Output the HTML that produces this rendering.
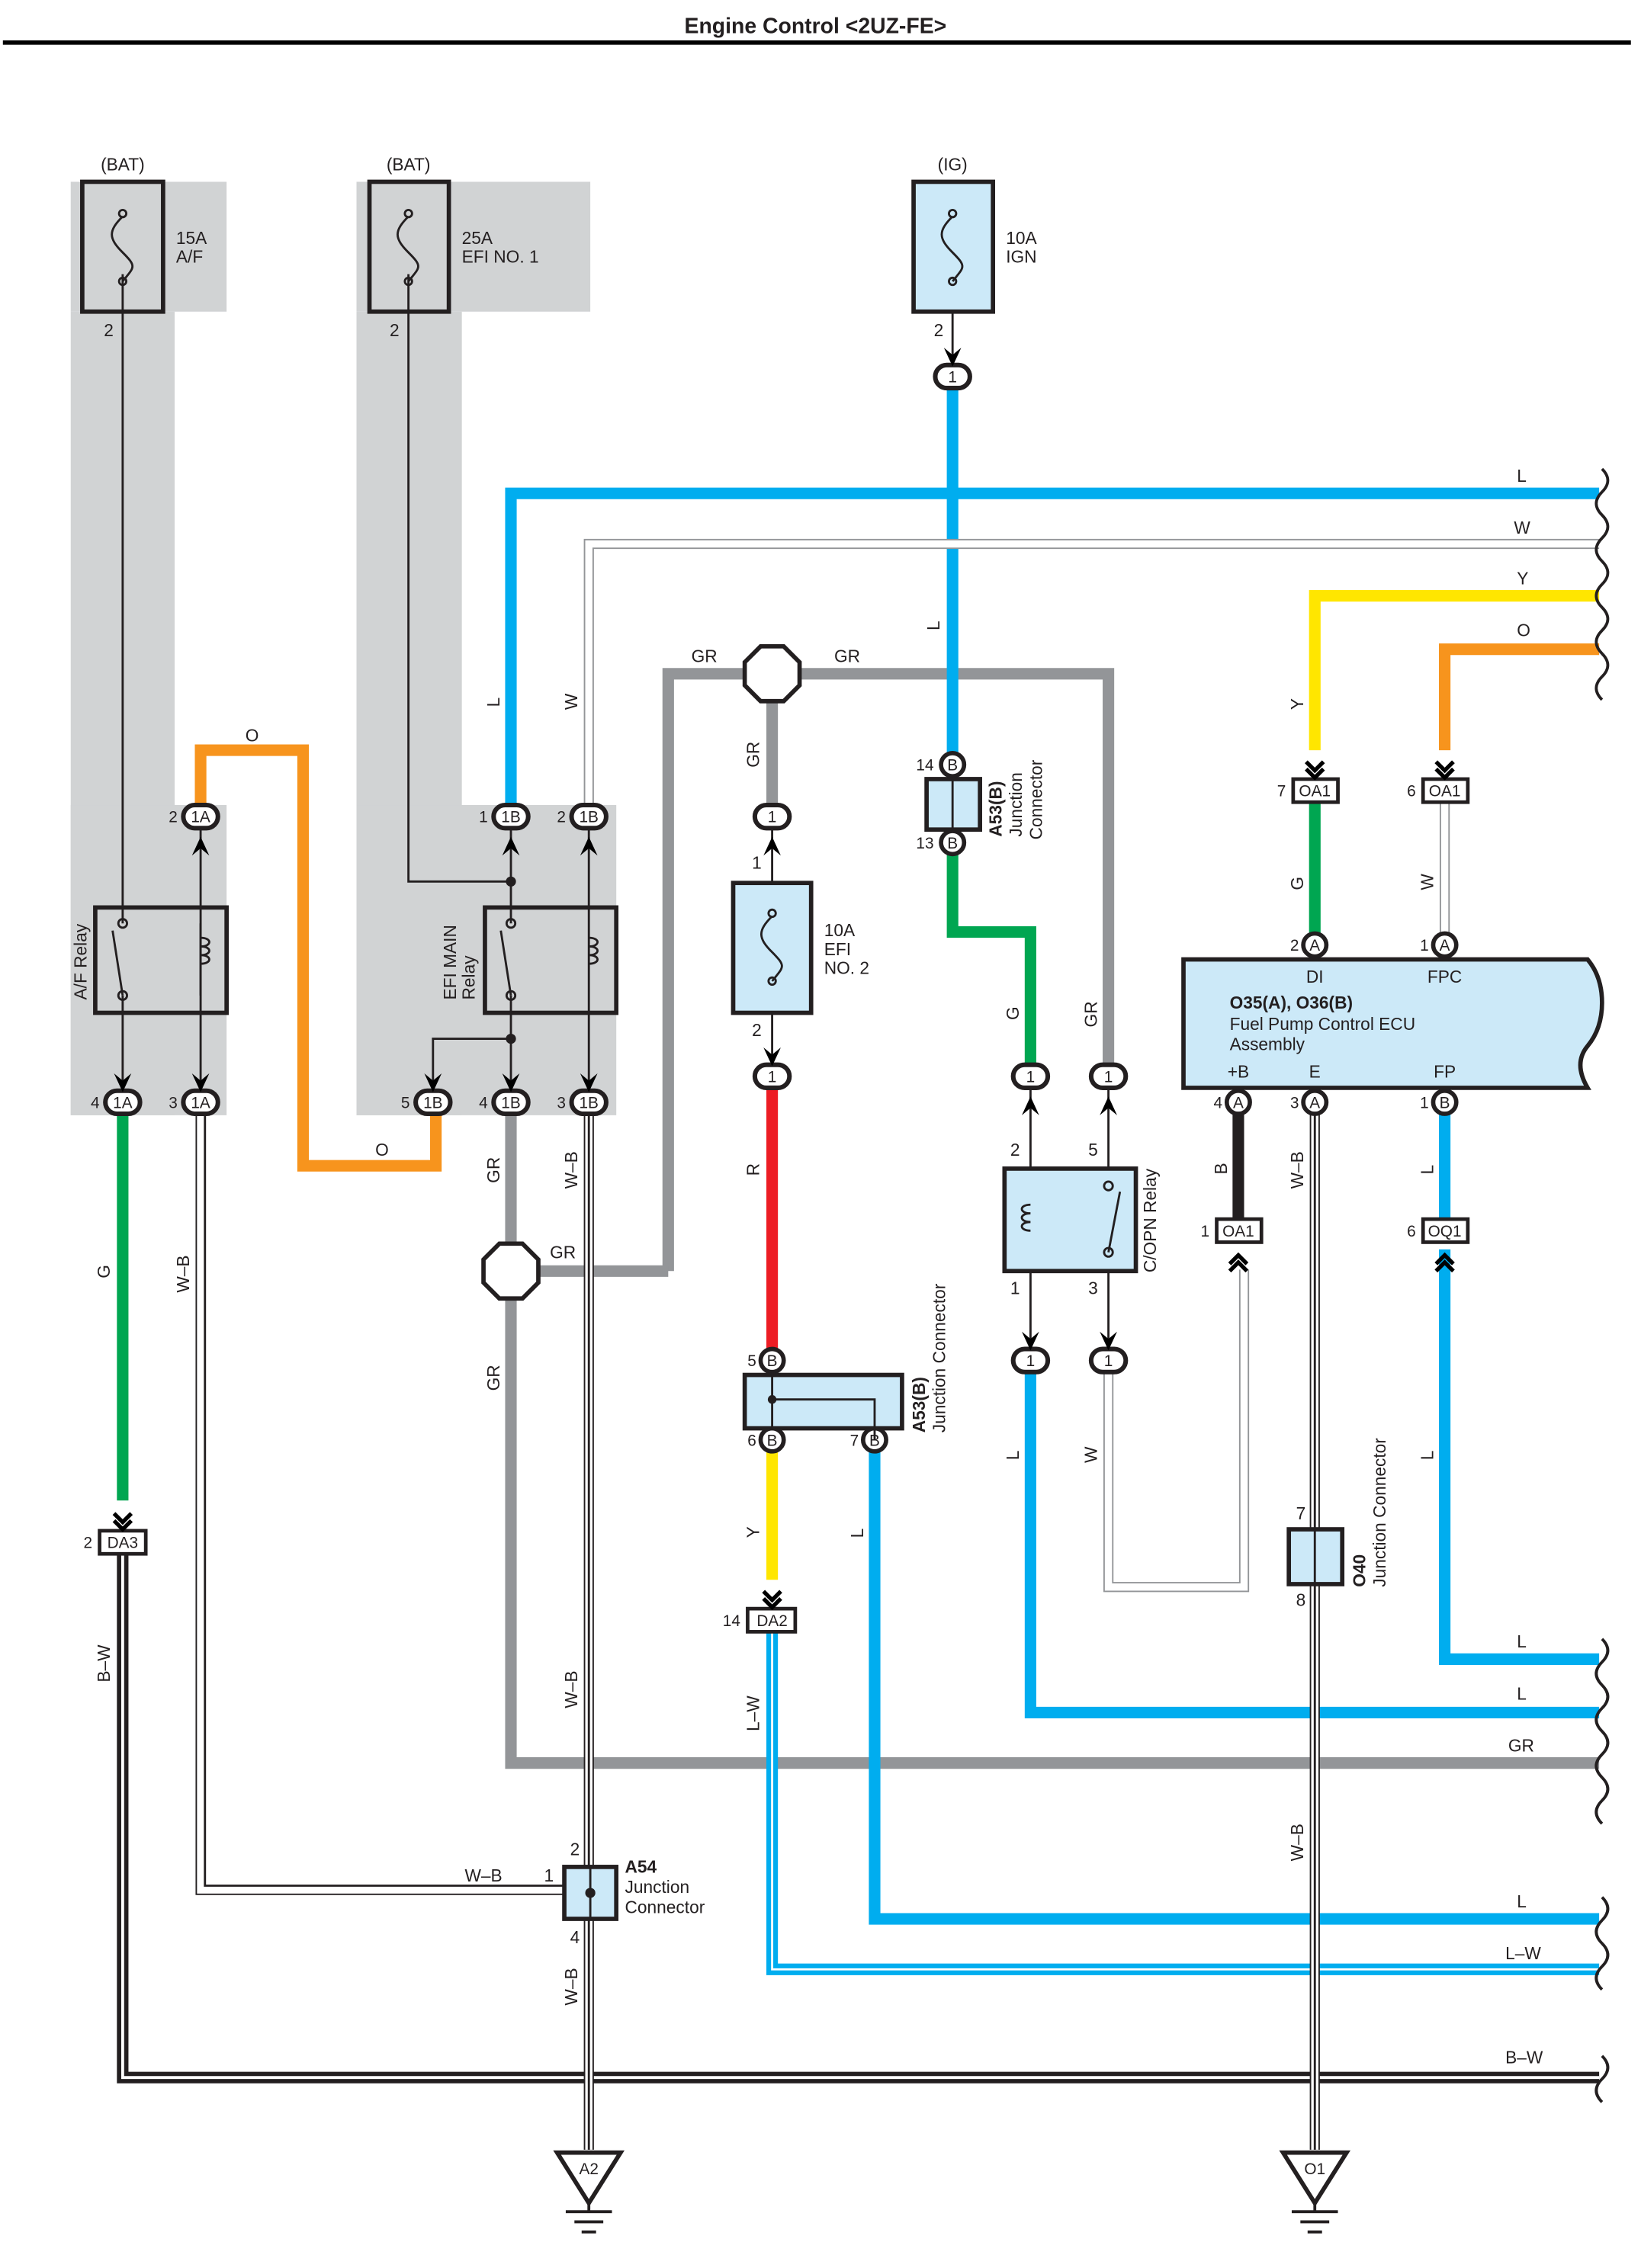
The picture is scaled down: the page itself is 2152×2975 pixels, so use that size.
<!DOCTYPE html>
<html><head><meta charset="utf-8">
<style>html,body{margin:0;padding:0;background:#fff}svg{display:block}
text{font-family:"Liberation Sans",sans-serif;fill:#231f20}</style></head>
<body>
<svg width="2152" height="2975" viewBox="0 0 1137 1572" preserveAspectRatio="none" xmlns="http://www.w3.org/2000/svg">
<defs>
<g id="chev"><path d="M-6,-9 L0,-3 L6,-9 M-6,-4 L0,2 L6,-4" fill="none" stroke="#000" stroke-width="2.8"/></g>
<g id="arrU"><path d="M-6,10 L0,-3 L6,10 L0,5 Z" fill="#000"/></g>
<g id="arrD"><path d="M-6,-10 L0,3 L6,-10 L0,-5 Z" fill="#000"/></g>
</defs>
<rect width="1137" height="1572" fill="#fff"/>
<text x="565" y="23" font-size="15" font-weight="bold" text-anchor="middle">Engine Control &lt;2UZ-FE&gt;</text>
<rect x="2" y="28" width="1128" height="3" fill="#000"/>

<g fill="#d1d3d4">
<rect x="49" y="126" width="108" height="90"/><rect x="49" y="216" width="72" height="557"/><rect x="49" y="558" width="108" height="215"/>
<rect x="247" y="126" width="162" height="90"/><rect x="247" y="216" width="73" height="557"/><rect x="247" y="558" width="180" height="215"/>
</g>

<g fill="none" stroke-linejoin="miter" stroke-linecap="butt">
<g stroke="#939598" stroke-width="8">
<path d="M463,881 V467 H768 V740"/>
<path d="M535,467 V560"/>
<path d="M354,770 V1222 H1108"/>
<path d="M354,881 H463"/>
</g>
<g stroke="#00adef" stroke-width="8">
<path d="M354,560 V342 H1108"/>
<path d="M660,268 V524"/>
<path d="M606,1004 V1330 H1108"/>
<path d="M714,950 V1187 H1108"/>
<path d="M1001,771 V846"/>
<path d="M1001,866 V1150 H1108"/>
</g>
<path d="M535,1130 V1365 H1108" stroke="#00adef" stroke-width="8"/>
<path d="M535,1130 V1365 H1108" stroke="#fff" stroke-width="1.5"/>
<g stroke="#939598" stroke-width="7"><path d="M408,560 V377 H1108"/><path d="M1001,555 V648"/><path d="M768,950 V1100 H862 V880"/></g>
<g stroke="#fff" stroke-width="5"><path d="M408,560 V377 H1108"/><path d="M1001,555 V648"/><path d="M768,950 V1100 H862 V880"/></g>
<g stroke="#ffe600" stroke-width="8"><path d="M911,520 V413 H1108"/><path d="M535,1004 V1095"/></g>
<g stroke="#f7941d" stroke-width="8"><path d="M1001,520 V450 H1108"/><path d="M139,558 V520 H210 V808 H302 V772"/></g>
<g stroke="#00a651" stroke-width="8"><path d="M660,590 V646 H714 V740"/><path d="M911,555 V648"/><path d="M85,771 V1040"/></g>
<path d="M535,754 V936" stroke="#ed1c24" stroke-width="8"/>
<path d="M858,771 V846" stroke="#231f20" stroke-width="8"/>
<path d="M85,1076 V1440 H1108" stroke="#231f20" stroke-width="8"/>
<path d="M85,1076 V1440 H1108" stroke="#fff" stroke-width="2"/>
<g stroke="#231f20" stroke-width="7"><path d="M139,771 V1310 H392"/><path d="M408,771 V1490"/><path d="M911,771 V1490"/></g>
<g stroke="#fff" stroke-width="5"><path d="M139,771 V1310 H392"/><path d="M408,771 V1490"/><path d="M911,771 V1490"/></g>
<g stroke="#231f20" stroke-width="1.5"><path d="M142,771 V1307 H392"/><path d="M408,771 V1490"/><path d="M911,771 V1490"/></g>
<g stroke="#231f20" stroke-width="1.5">
<path d="M85,190 V640"/><path d="M283,190 V611 H354"/><path d="M354,572 V640"/>
<path d="M85,690 V755"/><path d="M139,572 V755"/><path d="M139,640 V690"/>
<path d="M354,690 V755"/><path d="M354,720 H300 V755"/><path d="M408,572 V755"/>
<path d="M660,190 V252"/><path d="M535,572 V740"/>
<path d="M714,752 V930"/><path d="M768,752 V930"/>
</g>
<g stroke="#231f20" stroke-width="2">
<path d="M1110,325 q8,8 0,16 q-8,8 0,16 q8,8 0,16 q-8,8 0,16 q8,8 0,16 q-8,8 0,16 q8,8 0,16 q-8,8 0,16 q8,8 0,16 q-8,8 0,16"/>
<path d="M1110,1136 q8,8 0,16 q-8,8 0,16 q8,8 0,16 q-8,8 0,16 q8,8 0,16 q-8,8 0,16 q8,8 0,16 q-8,8 0,16"/>
<path d="M1110,1315 q8,8 0,16 q-8,8 0,16 q8,8 0,16 q-8,8 0,16"/>
<path d="M1110,1425 q8,8 0,16 q-8,8 0,16"/>
</g>
</g>

<g stroke="#231f20" stroke-width="3">
<rect x="57" y="126" width="56" height="90" fill="none"/>
<rect x="256" y="126" width="55" height="90" fill="none"/>
<rect x="633" y="126" width="55" height="90" fill="#cce9f8"/>
<rect x="508" y="612" width="54" height="90" fill="#cce9f8"/>
</g>
<g fill="none" stroke="#231f20" stroke-width="1.5">
<path d="M85,150 c-10,10 -10,15 0,25 c10,10 8,10 0,20"/><circle cx="85" cy="148" r="2.5"/><circle cx="85" cy="195" r="2.5"/>
<path d="M283,150 c-10,10 -10,15 0,25 c10,10 8,10 0,20"/><circle cx="283" cy="148" r="2.5"/><circle cx="283" cy="195" r="2.5"/>
<path d="M660,150 c-10,10 -10,15 0,25 c10,10 8,10 0,20"/><circle cx="660" cy="148" r="2.5"/><circle cx="660" cy="195" r="2.5"/>
<path d="M535,635 c-10,10 -10,15 0,25 c10,10 8,10 0,20"/><circle cx="535" cy="633" r="2.5"/><circle cx="535" cy="680" r="2.5"/>
</g>
<g font-size="12">
<text x="85" y="118" text-anchor="middle">(BAT)</text><text x="283" y="118" text-anchor="middle">(BAT)</text><text x="660" y="118" text-anchor="middle">(IG)</text>
<text x="122" y="169">15A</text><text x="122" y="182">A/F</text>
<text x="320" y="169">25A</text><text x="320" y="182">EFI NO. 1</text>
<text x="697" y="169">10A</text><text x="697" y="182">IGN</text>
<text x="571" y="649">10A</text><text x="571" y="662">EFI</text><text x="571" y="675">NO. 2</text>
<text x="72" y="233">2</text><text x="270" y="233">2</text><text x="647" y="233">2</text>
<text x="521" y="602">1</text><text x="521" y="718">2</text>
</g>

<g stroke="#231f20" stroke-width="3">
<rect x="66" y="629" width="91" height="73" fill="none"/>
<rect x="336" y="629" width="91" height="73" fill="none"/>
<rect x="696" y="810" width="91" height="71" fill="#cce9f8"/>
</g>
<g fill="none" stroke="#231f20" stroke-width="1.5">
<circle cx="85" cy="640" r="3"/><circle cx="85" cy="690" r="3"/><path d="M85,690 L78,645"/>
<path d="M139,650 c8,0 8,6 0,6 c8,0 8,6 0,6 c8,0 8,6 0,6"/>
<circle cx="354" cy="640" r="3"/><circle cx="354" cy="690" r="3"/><path d="M354,690 L347,645"/>
<path d="M408,650 c8,0 8,6 0,6 c8,0 8,6 0,6 c8,0 8,6 0,6"/>
<circle cx="768" cy="822" r="3"/><circle cx="768" cy="868" r="3"/><path d="M768,868 L776,826"/>
<path d="M714,835 c-8,0 -8,6 0,6 c-8,0 -8,6 0,6 c-8,0 -8,6 0,6"/>
</g>
<circle cx="354" cy="611" r="3.5" fill="#231f20"/><circle cx="354" cy="720" r="3.5" fill="#231f20"/>
<g font-size="12">
<text transform="translate(60,693) rotate(-90)">A/F Relay</text>
<text transform="translate(316,693) rotate(-90)">EFI MAIN</text><text transform="translate(329,693) rotate(-90)">Relay</text>
<text transform="translate(801,882) rotate(-90)">C/OPN Relay</text>
<text x="700" y="801">2</text><text x="754" y="801">5</text><text x="700" y="897">1</text><text x="754" y="897">3</text>
</g>

<g fill="#fff" stroke="#231f20" stroke-width="3">
<path d="M527,448 H543 L554,459 V475 L543,486 H527 L516,475 V459 Z"/>
<path d="M346,862 H362 L373,873 V889 L362,900 H346 L335,889 V873 Z"/>
</g>

<g stroke="#231f20" stroke-width="3.2" fill="#fff">
<rect x="648" y="253" width="24" height="16" rx="8"/>
<rect x="127" y="558" width="24" height="16" rx="8"/><rect x="73" y="756" width="24" height="16" rx="8"/><rect x="127" y="756" width="24" height="16" rx="8"/>
<rect x="342" y="558" width="24" height="16" rx="8"/><rect x="396" y="558" width="24" height="16" rx="8"/>
<rect x="288" y="756" width="24" height="16" rx="8"/><rect x="342" y="756" width="24" height="16" rx="8"/><rect x="396" y="756" width="24" height="16" rx="8"/>
<rect x="523" y="558" width="24" height="16" rx="8"/><rect x="523" y="738" width="24" height="16" rx="8"/>
<rect x="702" y="738" width="24" height="16" rx="8"/><rect x="756" y="738" width="24" height="16" rx="8"/>
<rect x="702" y="935" width="24" height="16" rx="8"/><rect x="756" y="935" width="24" height="16" rx="8"/>
</g>
<g stroke="#231f20" stroke-width="3" fill="#fff">
<circle cx="660" cy="530" r="8"/><circle cx="660" cy="584" r="8"/>
<circle cx="535" cy="943" r="8"/><circle cx="535" cy="998" r="8"/><circle cx="606" cy="998" r="8"/>
<circle cx="911" cy="655" r="8"/><circle cx="1001" cy="655" r="8"/>
<circle cx="858" cy="764" r="8"/><circle cx="911" cy="764" r="8"/><circle cx="1001" cy="764" r="8"/>
</g>
<g font-size="11" text-anchor="middle">
<text x="660" y="265">1</text>
<text x="139" y="570">1A</text><text x="85" y="768">1A</text><text x="139" y="768">1A</text>
<text x="354" y="570">1B</text><text x="408" y="570">1B</text>
<text x="300" y="768">1B</text><text x="354" y="768">1B</text><text x="408" y="768">1B</text>
<text x="535" y="570">1</text><text x="535" y="750">1</text>
<text x="714" y="750">1</text><text x="768" y="750">1</text><text x="714" y="947">1</text><text x="768" y="947">1</text>
<text x="660" y="534">B</text><text x="660" y="588">B</text>
<text x="535" y="947">B</text><text x="535" y="1002">B</text><text x="606" y="1002">B</text>
<text x="911" y="659">A</text><text x="1001" y="659">A</text>
<text x="858" y="768">A</text><text x="911" y="768">A</text><text x="1001" y="768">B</text>
</g>
<g font-size="11" text-anchor="end">
<text x="123" y="570">2</text><text x="69" y="768">4</text><text x="123" y="768">3</text>
<text x="338" y="570">1</text><text x="392" y="570">2</text>
<text x="284" y="768">5</text><text x="338" y="768">4</text><text x="392" y="768">3</text>
<text x="647" y="534">14</text><text x="647" y="588">13</text>
<text x="524" y="947">5</text><text x="524" y="1002">6</text><text x="595" y="1002">7</text>
<text x="900" y="659">2</text><text x="990" y="659">1</text>
<text x="847" y="768">4</text><text x="900" y="768">3</text><text x="990" y="768">1</text>
</g>

<g stroke="#231f20" stroke-width="2.5" fill="#fff">
<rect x="896" y="540" width="31" height="16"/><rect x="986" y="540" width="31" height="16"/>
<rect x="843" y="845" width="31" height="16"/><rect x="986" y="845" width="31" height="16"/>
<rect x="69" y="1061" width="32" height="16"/><rect x="518" y="1115" width="33" height="16"/>
</g>
<g font-size="11" text-anchor="middle">
<text x="911" y="552">OA1</text><text x="1001" y="552">OA1</text><text x="858" y="857">OA1</text><text x="1001" y="857">OQ1</text>
<text x="85" y="1073">DA3</text><text x="535" y="1127">DA2</text>
</g>
<g font-size="11" text-anchor="end">
<text x="891" y="552">7</text><text x="981" y="552">6</text><text x="838" y="857">1</text><text x="981" y="857">6</text>
<text x="64" y="1073">2</text><text x="513" y="1127">14</text>
</g>
<use href="#chev" x="911" y="537"/><use href="#chev" x="1001" y="537"/><use href="#chev" x="85" y="1058"/><use href="#chev" x="535" y="1112"/>
<use href="#chev" x="858" y="872" transform="rotate(180 858 872)"/><use href="#chev" x="1001" y="872" transform="rotate(180 1001 872)"/>
<use href="#arrD" x="660" y="251"/>
<use href="#arrU" x="139" y="583"/><use href="#arrU" x="354" y="583"/><use href="#arrU" x="408" y="583"/><use href="#arrU" x="535" y="583"/>
<use href="#arrD" x="85" y="754"/><use href="#arrD" x="139" y="754"/><use href="#arrD" x="300" y="754"/><use href="#arrD" x="354" y="754"/><use href="#arrD" x="408" y="754"/>
<use href="#arrD" x="535" y="736"/>
<use href="#arrU" x="714" y="763"/><use href="#arrU" x="768" y="763"/>
<use href="#arrD" x="714" y="933"/><use href="#arrD" x="768" y="933"/>

<g stroke="#231f20" stroke-width="3" fill="#cce9f8">
<rect x="642" y="540" width="37" height="35"/>
<rect x="516" y="953" width="109" height="37"/>
<rect x="893" y="1060" width="37" height="38"/>
<rect x="391" y="1294" width="36" height="36"/>
</g>
<g stroke="#231f20" stroke-width="1.5" fill="none">
<path d="M660,540 V575"/><path d="M911,1060 V1098"/><path d="M409,1294 V1330"/>
<path d="M535,951 V990"/><path d="M535,970 H606 V990"/><path d="M606,990 V998"/>
</g>
<circle cx="535" cy="970" r="3" fill="#231f20"/><circle cx="409" cy="1312" r="3.5" fill="#231f20"/>
<g font-size="12">
<text transform="translate(694,580) rotate(-90)" font-weight="bold">A53(B)</text>
<text transform="translate(708,580) rotate(-90)">Junction</text>
<text transform="translate(722,582) rotate(-90)">Connector</text>
<text transform="translate(641,993) rotate(-90)" font-weight="bold">A53(B)</text>
<text transform="translate(655,993) rotate(-90)">Junction Connector</text>
<text transform="translate(946,1100) rotate(-90)" font-weight="bold">O40</text>
<text transform="translate(960,1100) rotate(-90)">Junction Connector</text>
<text x="433" y="1298" font-weight="bold">A54</text><text x="433" y="1312">Junction</text><text x="433" y="1326">Connector</text>
<text x="898" y="1053">7</text><text x="898" y="1113">8</text>
<text x="395" y="1286">2</text><text x="377" y="1304">1</text><text x="395" y="1347">4</text>
</g>

<path d="M820,665 H1100 q10,12 10,30 q0,18 -10,30 q-10,12 0,29 H820 Z" fill="#cce9f8" stroke="#231f20" stroke-width="3"/>
<g font-size="12">
<text x="911" y="681" text-anchor="middle">DI</text><text x="1001" y="681" text-anchor="middle">FPC</text>
<text x="852" y="699" font-weight="bold">O35(A), O36(B)</text>
<text x="852" y="714">Fuel Pump Control ECU</text><text x="852" y="728">Assembly</text>
<text x="858" y="747" text-anchor="middle">+B</text><text x="911" y="747" text-anchor="middle">E</text><text x="1001" y="747" text-anchor="middle">FP</text>
</g>

<g stroke="#231f20" stroke-width="3" fill="#fff">
<path d="M386,1492 H430 L408,1527 Z"/><path d="M889,1492 H933 L911,1527 Z"/>
</g>
<g stroke="#231f20" stroke-width="2">
<path d="M392,1533 H424 M398,1540 H418 M403,1547 H413"/>
<path d="M895,1533 H927 M901,1540 H921 M906,1547 H916"/>
<path d="M408,1527 V1533 M911,1527 V1533"/>
</g>
<g font-size="11" text-anchor="middle"><text x="408" y="1507">A2</text><text x="911" y="1507">O1</text></g>

<g font-size="12">
<text x="1051" y="334">L</text><text x="1049" y="370">W</text><text x="1051" y="405">Y</text><text x="1051" y="441">O</text>
<text x="1051" y="1142">L</text><text x="1051" y="1178">L</text><text x="1045" y="1214">GR</text>
<text x="1051" y="1322">L</text><text x="1043" y="1358">L–W</text><text x="1043" y="1430">B–W</text>
<text x="479" y="459">GR</text><text x="578" y="459">GR</text><text x="381" y="872">GR</text>
<text x="170" y="514">O</text><text x="260" y="801">O</text>
<text x="322" y="1304">W–B</text>
</g>
<g font-size="12">
<text transform="translate(346,490) rotate(-90)">L</text>
<text transform="translate(400,492) rotate(-90)">W</text>
<text transform="translate(651,437) rotate(-90)">L</text>
<text transform="translate(526,532) rotate(-90)">GR</text>
<text transform="translate(903,492) rotate(-90)">Y</text>
<text transform="translate(903,617) rotate(-90)">G</text>
<text transform="translate(993,617) rotate(-90)">W</text>
<text transform="translate(706,707) rotate(-90)">G</text>
<text transform="translate(760,712) rotate(-90)">GR</text>
<text transform="translate(346,820) rotate(-90)">GR</text>
<text transform="translate(400,824) rotate(-90)">W–B</text>
<text transform="translate(526,815) rotate(-90)">R</text>
<text transform="translate(850,814) rotate(-90)">B</text>
<text transform="translate(903,824) rotate(-90)">W–B</text>
<text transform="translate(993,814) rotate(-90)">L</text>
<text transform="translate(76,886) rotate(-90)">G</text>
<text transform="translate(131,896) rotate(-90)">W–B</text>
<text transform="translate(346,964) rotate(-90)">GR</text>
<text transform="translate(706,1012) rotate(-90)">L</text>
<text transform="translate(760,1014) rotate(-90)">W</text>
<text transform="translate(993,1012) rotate(-90)">L</text>
<text transform="translate(526,1066) rotate(-90)">Y</text>
<text transform="translate(598,1066) rotate(-90)">L</text>
<text transform="translate(76,1166) rotate(-90)">B–W</text>
<text transform="translate(400,1184) rotate(-90)">W–B</text>
<text transform="translate(526,1200) rotate(-90)">L–W</text>
<text transform="translate(903,1290) rotate(-90)">W–B</text>
<text transform="translate(400,1390) rotate(-90)">W–B</text>
</g>
</svg>
</body></html>
